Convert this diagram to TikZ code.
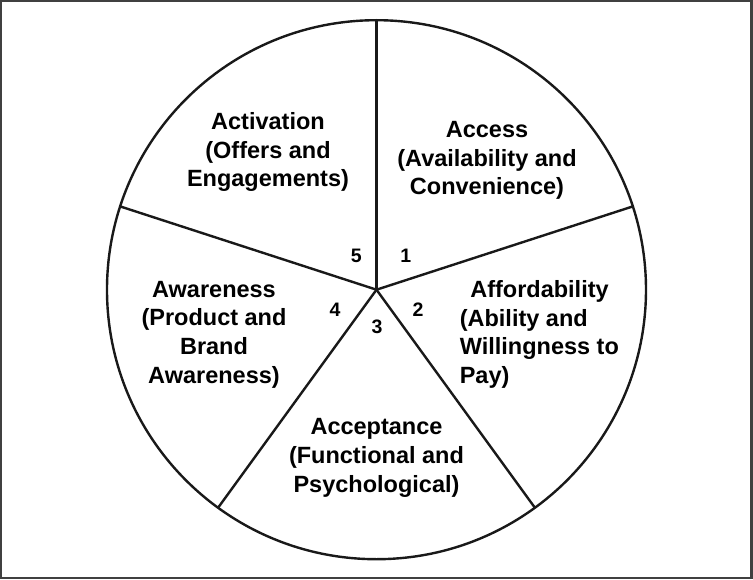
\documentclass[tikz,border=0pt]{standalone}
\usepackage{fontspec}
\setmainfont{Liberation Sans}
\usetikzlibrary{positioning,calc}

\tikzset{
	seglabel/.style={font=\fontsize{23.5}{28.7}\selectfont\bfseries,align=center,inner sep=0pt},
	segnum/.style={font=\fontsize{19.5}{22}\selectfont\bfseries,inner sep=0pt},
	wheel/.style={line width=2.4pt,draw=black!90},
}

\begin{document}
\begin{tikzpicture}[x=1pt,y=1pt]
		\useasboundingbox (-376.5,-289.3) rectangle (376.5,289.7);
		\draw[line width=2.2pt,draw=black!75] (-375.5,288.7) rectangle (375,-288.3);
		
		\coordinate (c) at (0,0);
		\draw[wheel] (c) circle (269.5);
		
		% spokes, starting at the top and going clockwise
		\foreach \ang [count=\idi] in {90,18,-54,-126,162}{%
			\coordinate (p\idi) at (\ang:269.5);
			\draw[wheel] (c)--(p\idi);
		}
		
		\node[seglabel] (access) at (110.5,129.2) {Access\\(Availability and\\Convenience)};
		\node[seglabel,anchor=west,align=left] (afford) at (83.1,-44.8) {\hspace*{10.5pt}Affordability\\(Ability and\\Willingness to\\Pay)};
		\node[seglabel] (accept) at (0,-168.3) {Acceptance\\(Functional and\\Psychological)};
		\node[seglabel] (aware) at (-162.5,-44.8) {Awareness\\(Product and\\Brand\\Awareness)};
		\node[seglabel] (activ) at (-108.5,137.7) {Activation\\(Offers and\\Engagements)};
		
		\node[segnum] (n1) at (29.3,34.2) {1};
		\node[segnum] (n2) at (41.5,-19.8) {2};
		\node[segnum] (n3) at (0.5,-37.1) {3};
		\node[segnum] (n4) at (-41.5,-19.8) {4};
		\node[segnum] (n5) at (-20.1,34.2) {5};
	\end{tikzpicture}
\end{document}
